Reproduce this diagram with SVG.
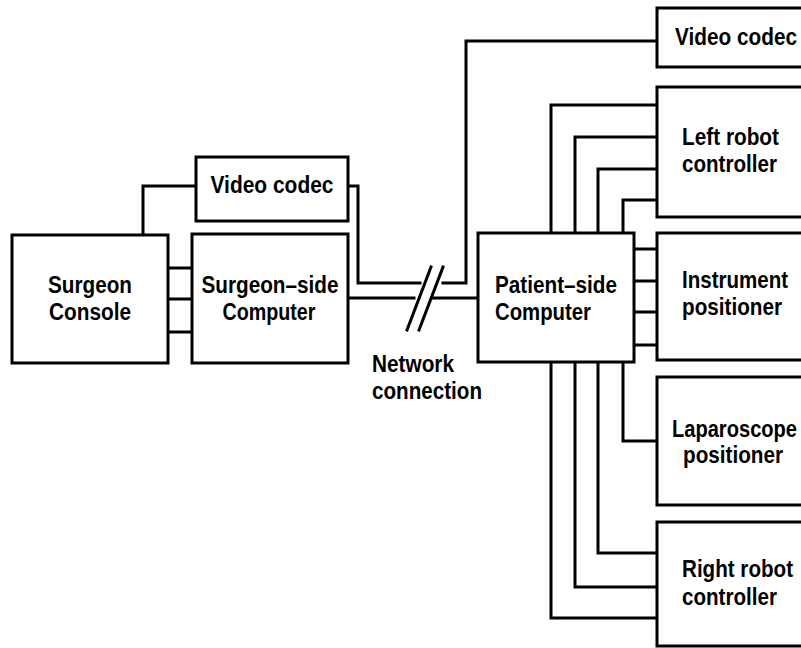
<svg xmlns="http://www.w3.org/2000/svg" width="801" height="648" viewBox="0 0 801 648">
<style>
.box{fill:#fff;stroke:#000;stroke-width:3}
.ln{fill:none;stroke:#000;stroke-width:3;stroke-linejoin:miter;stroke-linecap:square}
text{font-family:"Liberation Sans",Arial,sans-serif;font-size:23px;font-weight:bold;fill:#000}
.c{text-anchor:middle}
</style>
<rect width="801" height="648" fill="#fff"/>
<g id="connectors">
<path class="ln" d="M143,235 V186 H196"/>
<path class="ln" d="M168,268 H192 M168,299 H192 M168,332 H192"/>
<path class="ln" d="M348,186 H358 V283 H420"/>
<path class="ln" d="M443,283 H466 V41 H657"/>
<path class="ln" d="M348,298 H414"/>
<path class="ln" d="M433,298 H478"/>
<path class="ln" d="M407,330 L431,267 M419,330 L443,267"/>
<path class="ln" d="M551,233 V105 H657 M575,233 V137 H657 M598,233 V169 H657 M623,233 V200 H657"/>
<path class="ln" d="M634,249 H657 M634,281 H657 M634,312 H657 M634,345 H657"/>
<path class="ln" d="M623,362 V441 H657 M598,362 V553 H657 M575,362 V587 H657 M551,362 V618 H657"/>
</g>
<g id="surgeon-console"><rect class="box" x="12" y="235" width="156" height="128"/><text class="c" x="90" y="293" textLength="84" lengthAdjust="spacingAndGlyphs">Surgeon</text><text class="c" x="90" y="320" textLength="82" lengthAdjust="spacingAndGlyphs">Console</text></g>
<g id="surgeon-computer"><rect class="box" x="192" y="234" width="156" height="129"/><text class="c" x="270" y="293" textLength="137" lengthAdjust="spacingAndGlyphs">Surgeon–side</text><text class="c" x="269" y="320" textLength="93" lengthAdjust="spacingAndGlyphs">Computer</text></g>
<g id="video-codec-left"><rect class="box" x="196" y="157" width="152" height="64"/><text class="c" x="272" y="193" textLength="123" lengthAdjust="spacingAndGlyphs">Video codec</text></g>
<g id="network-label"><text x="372" y="372" textLength="82" lengthAdjust="spacingAndGlyphs">Network</text><text x="372" y="399" textLength="110" lengthAdjust="spacingAndGlyphs">connection</text></g>
<g id="patient-computer"><rect class="box" x="478" y="233" width="156" height="129"/><text x="495" y="293" textLength="122" lengthAdjust="spacingAndGlyphs">Patient–side</text><text x="495" y="320" textLength="96" lengthAdjust="spacingAndGlyphs">Computer</text></g>
<g id="video-codec-right"><rect class="box" x="657" y="8" width="160" height="59"/><text x="675" y="45" textLength="122" lengthAdjust="spacingAndGlyphs">Video codec</text></g>
<g id="left-robot"><rect class="box" x="657" y="87" width="160" height="130"/><text x="682" y="145" textLength="97" lengthAdjust="spacingAndGlyphs">Left robot</text><text x="682" y="172" textLength="95" lengthAdjust="spacingAndGlyphs">controller</text></g>
<g id="instrument-positioner"><rect class="box" x="657" y="233" width="160" height="127"/><text x="682" y="288" textLength="106" lengthAdjust="spacingAndGlyphs">Instrument</text><text x="682" y="315" textLength="100" lengthAdjust="spacingAndGlyphs">positioner</text></g>
<g id="laparoscope-positioner"><rect class="box" x="657" y="377" width="160" height="128"/><text x="672" y="437" textLength="125" lengthAdjust="spacingAndGlyphs">Laparoscope</text><text x="683" y="463" textLength="100" lengthAdjust="spacingAndGlyphs">positioner</text></g>
<g id="right-robot"><rect class="box" x="657" y="522" width="160" height="124"/><text x="682" y="577" textLength="111" lengthAdjust="spacingAndGlyphs">Right robot</text><text x="682" y="605" textLength="95" lengthAdjust="spacingAndGlyphs">controller</text></g>
</svg>
